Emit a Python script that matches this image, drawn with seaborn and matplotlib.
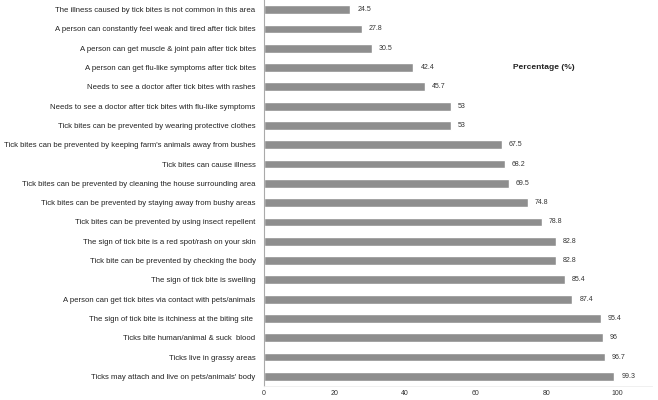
import pandas as pd
import matplotlib.pyplot as plt
import seaborn as sns

# --- data ---
statements = [
    "The illness caused by tick bites is not common in this area",
    "A person can constantly feel weak and tired after tick bites",
    "A person can get muscle & joint pain after tick bites",
    "A person can get flu-like symptoms after tick bites",
    "Needs to see a doctor after tick bites with rashes",
    "Needs to see a doctor after tick bites with flu-like symptoms",
    "Tick bites can be prevented by wearing protective clothes",
    "Tick bites can be prevented by keeping farm's animals away from bushes",
    "Tick bites can cause illness",
    "Tick bites can be prevented by cleaning the house surrounding area",
    "Tick bites can be prevented by staying away from bushy areas",
    "Tick bites can be prevented by using insect repellent",
    "The sign of tick bite is a red spot/rash on your skin",
    "Tick bite can be prevented by checking the body",
    "The sign of tick bite is swelling",
    "A person can get tick bites via contact with pets/animals",
    "The sign of tick bite is itchiness at the biting site ",
    "Ticks bite human/animal & suck  blood",
    "Ticks live in grassy areas",
    "Ticks may attach and live on pets/animals' body",
]
percent = [24.5, 27.8, 30.5, 42.4, 45.7, 53, 53, 67.5, 68.2, 69.5,
           74.8, 78.8, 82.8, 82.8, 85.4, 87.4, 95.4, 96, 96.7, 99.3]
x_ticks = [0, 20, 40, 60, 80, 100]

df = pd.DataFrame({"statement": statements, "percent": percent})

# --- style ---
sns.set_style("white")
plt.rcParams["font.family"] = ["Liberation Sans", "DejaVu Sans"]

fig = plt.figure(figsize=(6.58, 4.0), dpi=100)
ax = fig.add_axes([0.401, 0.035, 0.59, 0.965])

sns.barplot(data=df, x="percent", y="statement", color="#8e8e8e",
            saturation=1, width=0.46, ax=ax)

ax.bar_label(ax.containers[0], labels=[f"{v:g}" for v in percent],
             padding=5, fontsize=5, color="#333333")

ax.set_xlim(0, 110)
ax.set_ylim(len(statements) - 0.5, -0.5)
ax.set_xticks(x_ticks)
ax.tick_params(axis="x", labelsize=5, length=1.5, color="#cccccc",
               labelcolor="#333333", pad=1.5)
ax.tick_params(axis="y", which="major", length=0, labelsize=5.6,
               labelcolor="#222222", pad=6)
ax.set_yticks([i + 0.5 for i in range(-1, len(statements))], minor=True)
ax.tick_params(axis="y", which="minor", length=3, color="#aaaaaa")
ax.set_xlabel("")
ax.set_ylabel("")

for side in ["top", "right"]:
    ax.spines[side].set_visible(False)
ax.spines["left"].set_color("#aaaaaa")
ax.spines["left"].set_linewidth(0.8)
ax.spines["bottom"].set_color("#eeeeee")
ax.spines["bottom"].set_linewidth(0.6)

ax.text(70.5, 3, "Percentage (%)", fontsize=6, fontweight="bold",
        ha="left", va="center", color="#222222")

fig.savefig("out.png", dpi=100)
